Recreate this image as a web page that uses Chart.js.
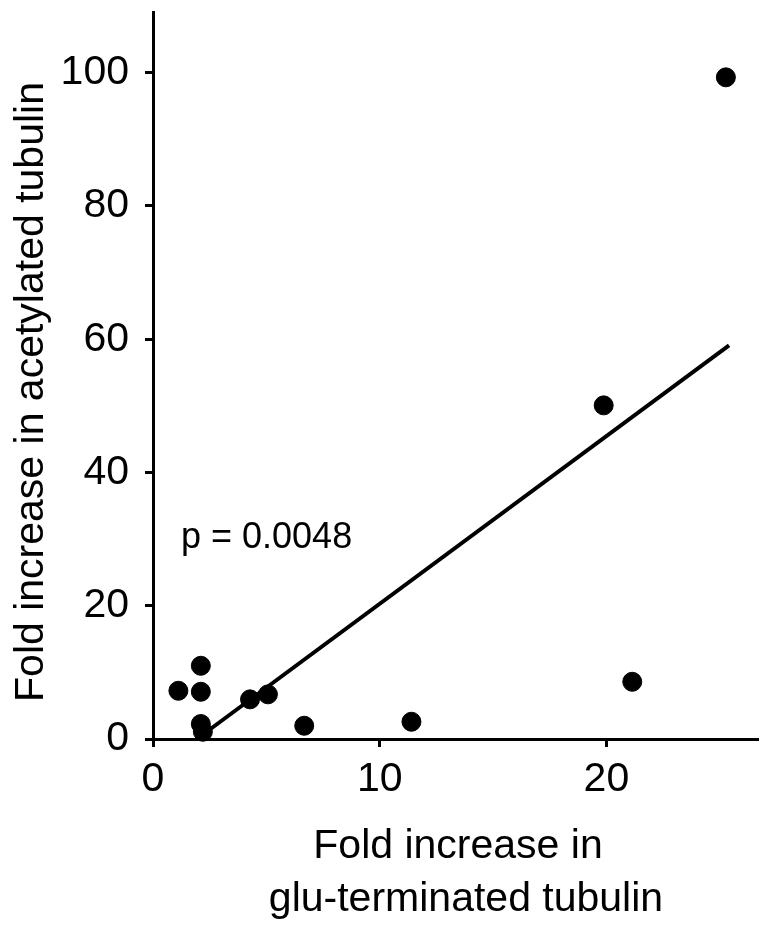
<!DOCTYPE html>
<html>
<head>
<meta charset="utf-8">
<script src="https://cdn.jsdelivr.net/npm/chart.js@4/dist/chart.umd.min.js"></script>
<style>
    body { margin: 0; background: #fff; }
    #wrap { width: 769px; height: 928px; position: relative; }
</style>
</head>
<body>
<div id="wrap"><canvas id="scatterChart"></canvas></div>
<script>
// Fold increase values
const gluFold = [1.12, 2.11, 2.11, 2.11, 2.2, 4.28, 5.07, 6.67, 11.4, 19.88, 21.14, 25.27];
const acetFold = [7.24, 10.99, 7.09, 2.25, 1.09, 5.95, 6.7, 1.99, 2.59, 50.07, 8.59, 99.3];

// regression line end points
const fitX = [2.37, 25.41];
const fitY = [1.09, 59.07];

const xTicks = [0, 10, 20];
const yTicks = [0, 20, 40, 60, 80, 100];

const yTitle = 'Fold increase in acetylated tubulin';
const xTitle = ['Fold increase in', 'glu-terminated tubulin'];
const pLabel = 'p = 0.0048';

const FONT = "'Liberation Sans', Arial, sans-serif";

// axis titles and the p value drawn as text on the canvas
const textPlugin = {
    id: 'figureText',
    afterDraw(chart) {
        const ctx = chart.ctx;
        ctx.save();
        ctx.fillStyle = '#000';
        ctx.font = '41px ' + FONT;
        ctx.textBaseline = 'alphabetic';
        ctx.textAlign = 'center';
        ctx.fillText(xTitle[0], 458, 858);
        ctx.fillText(xTitle[1], 466, 911);

        ctx.save();
        ctx.translate(43, 392);
        ctx.rotate(-Math.PI / 2);
        ctx.fillText(yTitle, 0, 0);
        ctx.restore();

        ctx.font = '36px ' + FONT;
        ctx.textAlign = 'left';
        ctx.fillText(pLabel, 181, 548);
        ctx.restore();
    }
};

const points = gluFold.map((x, i) => ({ x: x, y: acetFold[i] }));
const fitLine = fitX.map((x, i) => ({ x: x, y: fitY[i] }));

new Chart(document.getElementById('scatterChart'), {
    type: 'scatter',
    data: {
        datasets: [{
            type: 'line',
            data: fitLine,
            borderColor: '#000',
            borderWidth: 4,
            pointRadius: 0,
            fill: false,
            clip: false
        }, {
            data: points,
            backgroundColor: '#000',
            borderColor: '#000',
            pointRadius: 9.5,
            pointHoverRadius: 9.5,
            clip: false
        }]
    },
    options: {
        responsive: true,
        maintainAspectRatio: false,
        devicePixelRatio: 1,
        animation: false,
        layout: {
            padding: { top: 12.7, right: 10.7, left: 0, bottom: 0 }
        },
        plugins: {
            legend: { display: false },
            tooltip: { enabled: false }
        },
        scales: {
            x: {
                type: 'linear',
                min: 0,
                max: 26.7,
                afterBuildTicks: scale => {
                    scale.ticks = xTicks.map(v => ({ value: v }));
                },
                afterFit: scale => {
                    scale.height = 189;
                    scale.paddingLeft = 0;
                    scale.paddingRight = 0;
                },
                border: { display: true, color: '#000', width: 3 },
                grid: {
                    drawOnChartArea: false,
                    drawTicks: true,
                    tickLength: 8,
                    tickWidth: 3,
                    tickColor: '#000'
                },
                ticks: {
                    color: '#000',
                    font: { family: FONT, size: 41 },
                    padding: 8,
                    maxRotation: 0
                }
            },
            y: {
                type: 'linear',
                min: 0,
                max: 109,
                afterBuildTicks: scale => {
                    scale.ticks = yTicks.map(v => ({ value: v }));
                },
                afterFit: scale => {
                    scale.width = 153;
                    // keep the plot top where the figure has it
                    scale.paddingTop = 0;
                    scale.paddingBottom = 0;
                },
                border: { display: true, color: '#000', width: 3 },
                grid: {
                    drawOnChartArea: false,
                    drawTicks: true,
                    tickLength: 8,
                    tickWidth: 3,
                    tickColor: '#000'
                },
                ticks: {
                    color: '#000',
                    font: { family: FONT, size: 41 },
                    padding: 16
                }
            }
        }
    },
    plugins: [textPlugin]
});
</script>
</body>
</html>
